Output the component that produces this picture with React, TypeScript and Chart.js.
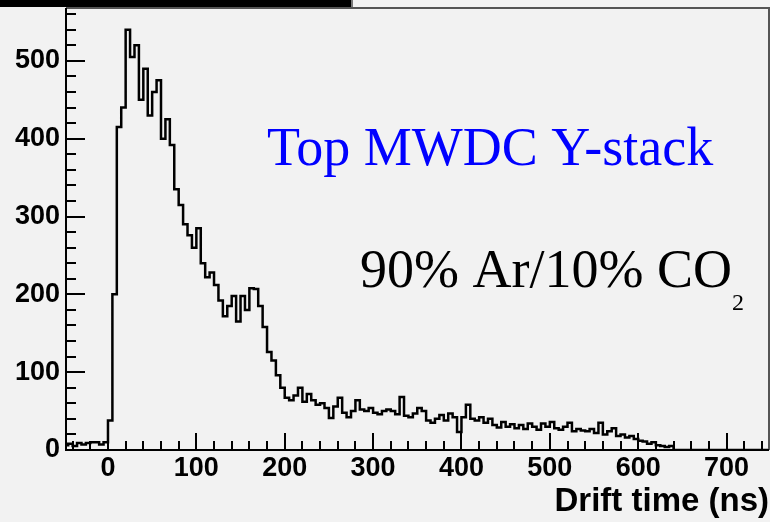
import React, { useEffect, useRef } from "react";
import { Chart, registerables } from "chart.js";

Chart.register(...registerables);

// Histogram: drift time bins (ns) and counts
const BIN_START = -50;
const BIN_WIDTH = 5;
const counts = [
  // -50 .. -5
  6, 8, 5, 9, 7, 9, 10, 10, 7, 10,
  // 0 .. 95
  38, 200, 415, 440, 540, 505, 520, 450, 490, 430,
  460, 475, 400, 425, 392, 335, 315, 290, 276, 260,
  // 100 .. 195
  285, 240, 222, 228, 212, 192, 172, 185, 198, 165,
  198, 180, 208, 207, 185, 158, 126, 115, 96, 80,
  // 200 .. 295
  67, 64, 70, 80, 62, 72, 64, 58, 60, 54,
  41, 56, 67, 48, 42, 50, 64, 52, 50, 54,
  // 300 .. 395
  48, 46, 50, 52, 50, 46, 68, 44, 42, 47,
  54, 50, 38, 35, 40, 45, 38, 47, 42, 23,
  // 400 .. 495
  42, 58, 40, 38, 42, 35, 40, 32, 29, 36,
  30, 33, 28, 32, 27, 34, 30, 26, 34, 30,
  // 500 .. 595
  36, 28, 26, 30, 35, 24, 27, 25, 24, 27,
  22, 35, 20, 24, 28, 18, 20, 16, 18, 14,
  // 600 .. 695
  12, 11, 8, 10, 6, 5, 4, 5, 0, 0,
  0, 0, 0, 0, 0, 0, 0, 0, 0, 0,
  // 700 .. 745
  0, 0, 0, 0, 0, 0, 0, 0, 0, 0,
];

const X_MIN = -47.5;
const X_MAX = 748;
const Y_MIN = 0;
const Y_MAX = 568;
const xTickLabels = [0, 100, 200, 300, 400, 500, 600, 700];
const yTickLabels = [0, 100, 200, 300, 400, 500];
const X_MAJOR = 100;
const X_MINOR = 20;
const Y_MAJOR = 100;
const Y_MINOR = 20;

const xTitle = "Drift time (ns)";
const label1 = "Top MWDC Y-stack";
const label2 = "90% Ar/10% CO";
const label2Sub = "2";

const W = 770;
const H = 522;

export default function App() {
  const ref = useRef<HTMLCanvasElement | null>(null);

  useEffect(() => {
    const canvas = ref.current;
    if (!canvas) return;

    const points = counts.map((c, i) => ({ x: BIN_START + i * BIN_WIDTH, y: c }));
    points.push({ x: BIN_START + counts.length * BIN_WIDTH, y: counts[counts.length - 1] });

    const decor = {
      id: "rootDecor",
      beforeDraw(chart: any) {
        const ctx = chart.ctx;
        ctx.save();
        ctx.fillStyle = "#f2f2f2";
        ctx.fillRect(0, 0, chart.width, chart.height);
        // remnant of the title box above the frame
        ctx.fillStyle = "#000";
        ctx.fillRect(0, 0, 351, 7);
        ctx.fillStyle = "#777";
        ctx.fillRect(351, 0, 2, 8);
        ctx.restore();
      },
      afterDraw(chart: any) {
        const ctx = chart.ctx;
        const { left, right, top, bottom } = chart.chartArea;
        const xs = chart.scales.x;
        const ys = chart.scales.y;
        ctx.save();
        // frame top / right
        ctx.strokeStyle = "#555";
        ctx.lineWidth = 2;
        ctx.beginPath();
        ctx.moveTo(left, top);
        ctx.lineTo(right, top);
        ctx.lineTo(right, bottom);
        ctx.stroke();
        // axes
        ctx.strokeStyle = "#000";
        ctx.lineWidth = 2;
        ctx.beginPath();
        ctx.moveTo(left, top);
        ctx.lineTo(left, bottom);
        ctx.lineTo(right, bottom);
        ctx.stroke();
        // x ticks (inside)
        ctx.lineWidth = 2;
        const xStart = Math.ceil(X_MIN / X_MINOR) * X_MINOR;
        for (let v = xStart; v <= X_MAX; v += X_MINOR) {
          const px = Math.round(xs.getPixelForValue(v));
          const len = v % X_MAJOR === 0 ? 17 : 9;
          ctx.beginPath();
          ctx.moveTo(px, bottom);
          ctx.lineTo(px, bottom - len);
          ctx.stroke();
        }
        // y ticks (inside)
        for (let v = Y_MIN; v <= Y_MAX; v += Y_MINOR) {
          const py = Math.round(ys.getPixelForValue(v));
          const len = v % Y_MAJOR === 0 ? 19 : 10;
          ctx.beginPath();
          ctx.moveTo(left, py);
          ctx.lineTo(left + len, py);
          ctx.stroke();
        }
        // annotations
        ctx.textBaseline = "alphabetic";
        ctx.textAlign = "left";
        ctx.fillStyle = "#0000ff";
        ctx.font = '54px "Liberation Serif", "Times New Roman", serif';
        ctx.fillText(label1, 267, 165);
        ctx.fillStyle = "#000";
        ctx.font = '54px "Liberation Serif", "Times New Roman", serif';
        ctx.fillText(label2, 360, 287);
        const w2 = ctx.measureText(label2).width;
        ctx.font = '24px "Liberation Serif", "Times New Roman", serif';
        ctx.fillText(label2Sub, 360 + w2, 310);
        ctx.restore();
      },
    };

    const tickFont = { family: '"Liberation Sans", Arial, Helvetica, sans-serif', size: 27, weight: "bold" as const };

    const zeroPad = (scale: any) => {
      scale.paddingTop = 0;
      scale.paddingBottom = 0;
      scale.paddingLeft = 0;
      scale.paddingRight = 0;
    };

    const chart = new Chart(canvas, {
      type: "line",
      data: {
        datasets: [
          {
            data: points,
            stepped: true,
            borderColor: "#000",
            borderWidth: 2.5,
            pointRadius: 0,
            fill: false,
            tension: 0,
          },
        ],
      },
      options: {
        animation: false,
        responsive: false,
        devicePixelRatio: 1,
        layout: { padding: { top: 8, right: 1, left: 0, bottom: 0 } },
        plugins: { legend: { display: false }, tooltip: { enabled: false } },
        scales: {
          x: {
            type: "linear",
            min: X_MIN,
            max: X_MAX,
            grid: { display: false, drawTicks: false },
            border: { display: false },
            ticks: {
              font: tickFont,
              color: "#000",
              padding: 2,
              maxRotation: 0,
              autoSkip: false,
            },
            afterBuildTicks(scale: any) {
              scale.ticks = xTickLabels.map((v) => ({ value: v }));
            },
            title: {
              display: true,
              text: xTitle,
              align: "end",
              color: "#000",
              font: { family: '"Liberation Sans", Arial, Helvetica, sans-serif', size: 33, weight: "bold" },
              padding: { top: 0, bottom: 0 },
            },
            afterFit(scale: any) {
              scale.height = 72;
              zeroPad(scale);
            },
          },
          y: {
            type: "linear",
            min: Y_MIN,
            max: Y_MAX,
            grid: { display: false, drawTicks: false },
            border: { display: false },
            ticks: {
              font: tickFont,
              color: "#000",
              padding: 6,
            },
            afterBuildTicks(scale: any) {
              scale.ticks = yTickLabels.map((v) => ({ value: v }));
            },
            afterFit(scale: any) {
              scale.width = 66;
              zeroPad(scale);
            },
          },
        },
      },
      plugins: [decor],
    });

    return () => chart.destroy();
  }, []);

  return (
    <div style={{ position: "fixed", left: 0, top: 0, width: W, height: H, background: "#f2f2f2" }}>
      <canvas ref={ref} width={W} height={H} style={{ display: "block" }} />
    </div>
  );
}
